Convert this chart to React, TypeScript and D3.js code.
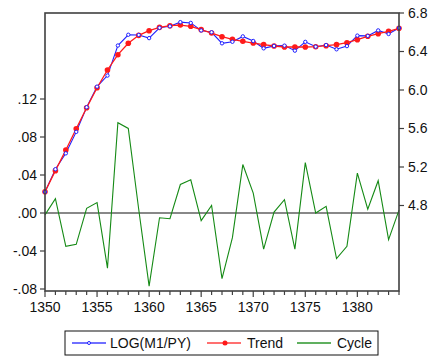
import { useEffect, useRef } from "react";
import * as d3 from "d3";

const years: number[] = d3.range(1350, 1385);

const logM1PY: number[] = [
  4.941, 5.177, 5.342, 5.565, 5.821, 6.035, 6.15, 6.462, 6.574, 6.572,
  6.539, 6.646, 6.662, 6.705, 6.697, 6.619, 6.6, 6.485, 6.501, 6.557,
  6.509, 6.433, 6.458, 6.461, 6.409, 6.5, 6.45, 6.467, 6.423, 6.456,
  6.565, 6.562, 6.619, 6.582, 6.644,
];

const trend: number[] = [
  4.943, 5.162, 5.377, 5.598, 5.816, 6.024, 6.208, 6.367, 6.485, 6.568,
  6.616, 6.651, 6.668, 6.675, 6.662, 6.627, 6.592, 6.554, 6.527, 6.506,
  6.488, 6.471, 6.457, 6.447, 6.447, 6.447, 6.45, 6.46, 6.471, 6.491,
  6.523, 6.558, 6.585, 6.61, 6.641,
];

const cycle: number[] = [
  -0.002, 0.015, -0.035, -0.033, 0.005, 0.011, -0.058, 0.095, 0.089, 0.004,
  -0.077, -0.005, -0.006, 0.03, 0.035, -0.008, 0.008, -0.069, -0.026, 0.051,
  0.021, -0.038, 0.001, 0.014, -0.038, 0.053, 0.0, 0.007, -0.048, -0.035,
  0.042, 0.004, 0.034, -0.028, 0.003,
];

const leftTicks: number[] = [-0.08, -0.04, 0, 0.04, 0.08, 0.12];
const rightTicks: number[] = [4.8, 5.2, 5.6, 6.0, 6.4, 6.8];
const xTicks: number[] = [1350, 1355, 1360, 1365, 1370, 1375, 1380];
const legendNames: string[] = ["LOG(M1/PY)", "Trend", "Cycle"];

const W = 432;
const H = 356;
const left = 45;
const right = 399;
const top = 13;
const bottom = 291;
const font = "'Liberation Sans', Arial, sans-serif";

const fmtLeft = (v: number) => {
  const s = Math.abs(v).toFixed(2).replace(/^0/, "");
  return v < -1e-9 ? "-" + s : s;
};

const App = () => {
  const ref = useRef<SVGSVGElement>(null);

  useEffect(() => {
    document.body.style.margin = "0";
    const svg = d3.select(ref.current);
    svg.selectAll("*").remove();

    const x = d3.scaleLinear().domain([1350, 1384]).range([left, right]);
    // left axis: cycle, 950 px per unit
    const yL = d3
      .scaleLinear()
      .domain([-0.08 - 2 / 950, 0.12 + 86 / 950])
      .range([bottom, top]);
    // right axis: levels
    const yR = d3
      .scaleLinear()
      .domain([6.8 - (bottom - top) / 96.25, 6.8])
      .range([bottom, top]);

    const g = svg.append("g");

    // zero line
    g.append("line")
      .attr("x1", left)
      .attr("x2", right)
      .attr("y1", yL(0))
      .attr("y2", yL(0))
      .attr("stroke", "#606060")
      .attr("stroke-width", 1.5);

    // cycle
    g.append("path")
      .datum(cycle)
      .attr("fill", "none")
      .attr("stroke", "#158a15")
      .attr("stroke-width", 1.1)
      .attr(
        "d",
        d3
          .line<number>()
          .x((d, i) => x(years[i]))
          .y((d) => yL(d))
      );

    // log(m1/py)
    g.append("path")
      .datum(logM1PY)
      .attr("fill", "none")
      .attr("stroke", "#2020ff")
      .attr("stroke-width", 1.1)
      .attr(
        "d",
        d3
          .line<number>()
          .x((d, i) => x(years[i]))
          .y((d) => yR(d))
      );

    // trend
    g.append("path")
      .datum(trend)
      .attr("fill", "none")
      .attr("stroke", "#ff1a1a")
      .attr("stroke-width", 1.3)
      .attr(
        "d",
        d3
          .line<number>()
          .x((d, i) => x(years[i]))
          .y((d) => yR(d))
      );

    g.selectAll(".tdot")
      .data(trend)
      .enter()
      .append("circle")
      .attr("cx", (d, i) => x(years[i]))
      .attr("cy", (d) => yR(d))
      .attr("r", 2.8)
      .attr("fill", "#ff1a1a");

    g.selectAll(".bdot")
      .data(logM1PY)
      .enter()
      .append("circle")
      .attr("cx", (d, i) => x(years[i]))
      .attr("cy", (d) => yR(d))
      .attr("r", 1.7)
      .attr("fill", "white")
      .attr("stroke", "#2020ff")
      .attr("stroke-width", 1);

    // frame
    g.append("rect")
      .attr("x", left)
      .attr("y", top)
      .attr("width", right - left)
      .attr("height", bottom - top)
      .attr("fill", "none")
      .attr("stroke", "#404040")
      .attr("stroke-width", 1.6);

    // left ticks
    leftTicks.forEach((v) => {
      g.append("line")
        .attr("x1", left - 5)
        .attr("x2", left)
        .attr("y1", yL(v))
        .attr("y2", yL(v))
        .attr("stroke", "#404040")
        .attr("stroke-width", 1.2);
      g.append("text")
        .attr("x", left - 8)
        .attr("y", yL(v))
        .attr("dy", "0.35em")
        .attr("text-anchor", "end")
        .attr("font-family", font)
        .attr("font-size", 14)
        .attr("fill", "#111")
        .text(fmtLeft(v));
    });

    // right ticks
    rightTicks.forEach((v) => {
      g.append("line")
        .attr("x1", right)
        .attr("x2", right + 5)
        .attr("y1", yR(v))
        .attr("y2", yR(v))
        .attr("stroke", "#404040")
        .attr("stroke-width", 1.2);
      g.append("text")
        .attr("x", right + 9)
        .attr("y", yR(v))
        .attr("dy", "0.35em")
        .attr("text-anchor", "start")
        .attr("font-family", font)
        .attr("font-size", 14)
        .attr("fill", "#111")
        .text(v.toFixed(1));
    });

    // bottom ticks
    years.forEach((yr) => {
      const major = (yr - 1350) % 5 === 0;
      g.append("line")
        .attr("x1", x(yr))
        .attr("x2", x(yr))
        .attr("y1", bottom)
        .attr("y2", bottom + (major ? 6 : 4))
        .attr("stroke", "#404040")
        .attr("stroke-width", 1.2);
    });
    xTicks.forEach((yr) => {
      g.append("text")
        .attr("x", x(yr))
        .attr("y", 307)
        .attr("dy", "0.35em")
        .attr("text-anchor", "middle")
        .attr("font-family", font)
        .attr("font-size", 14)
        .attr("fill", "#111")
        .text(String(yr));
    });

    // legend
    const lg = svg.append("g");
    lg.append("rect")
      .attr("x", 65)
      .attr("y", 331)
      .attr("width", 313)
      .attr("height", 24)
      .attr("fill", "white")
      .attr("stroke", "#111")
      .attr("stroke-width", 1);
    const items = [
      { x0: 72, color: "#7070ff", tx: 110 },
      { x0: 207, color: "#ff7070", tx: 247 },
      { x0: 297, color: "#60b060", tx: 337 },
    ];
    items.forEach((it, i) => {
      lg.append("line")
        .attr("x1", it.x0)
        .attr("x2", it.x0 + 34)
        .attr("y1", 343)
        .attr("y2", 343)
        .attr("stroke", it.color)
        .attr("stroke-width", 2);
      if (i === 0) {
        lg.append("circle")
          .attr("cx", it.x0 + 17)
          .attr("cy", 343)
          .attr("r", 1.5)
          .attr("fill", "white")
          .attr("stroke", "#2020ff");
      }
      if (i === 1) {
        lg.append("circle")
          .attr("cx", it.x0 + 18)
          .attr("cy", 343)
          .attr("r", 2.5)
          .attr("fill", "#ff1a1a");
      }
      lg.append("text")
        .attr("x", it.tx)
        .attr("y", 343)
        .attr("dy", "0.35em")
        .attr("font-family", font)
        .attr("font-size", 14)
        .attr("fill", "#111")
        .text(legendNames[i]);
    });
  }, []);

  return <svg ref={ref} width={W} height={H} style={{ display: "block" }} />;
};

export default App;
